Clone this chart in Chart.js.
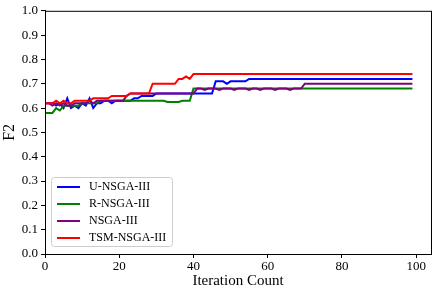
<!DOCTYPE html>
<html>
<head>
<meta charset="utf-8">
<script src="https://cdn.jsdelivr.net/npm/chart.js"></script>
<style>
html, body { margin:0; padding:0; background:#fff; }
</style>
</head>
<body>
<canvas id="canvas" width="432" height="290"></canvas>
<script>
// iteration index 0..99
var iterations = [];
for (var i = 0; i < 100; i++) iterations.push(i);

var seriesNames = ['U-NSGA-III', 'R-NSGA-III', 'NSGA-III', 'TSM-NSGA-III'];
var seriesColors = ['#0000ff', '#008000', '#800080', '#ff0000'];

var uNsga = [
    0.62, 0.62, 0.62, 0.61, 0.62, 0.60, 0.64, 0.60, 0.61, 0.60,
    0.62, 0.61, 0.64, 0.60, 0.62, 0.62, 0.63, 0.63, 0.62, 0.63,
    0.63, 0.63, 0.63, 0.63, 0.64, 0.64, 0.65, 0.65, 0.65, 0.65,
    0.66, 0.66, 0.66, 0.66, 0.66, 0.66, 0.66, 0.66, 0.66, 0.66,
    0.66, 0.66, 0.66, 0.66, 0.66, 0.66, 0.71, 0.71, 0.71, 0.70,
    0.71, 0.71, 0.71, 0.71, 0.71, 0.72, 0.72, 0.72, 0.72, 0.72,
    0.72, 0.72, 0.72, 0.72, 0.72, 0.72, 0.72, 0.72, 0.72, 0.72,
    0.72, 0.72, 0.72, 0.72, 0.72, 0.72, 0.72, 0.72, 0.72, 0.72,
    0.72, 0.72, 0.72, 0.72, 0.72, 0.72, 0.72, 0.72, 0.72, 0.72,
    0.72, 0.72, 0.72, 0.72, 0.72, 0.72, 0.72, 0.72, 0.72, 0.72
];
var rNsga = [
    0.58, 0.58, 0.58, 0.60, 0.59, 0.61, 0.61, 0.61, 0.61, 0.61,
    0.62, 0.62, 0.62, 0.62, 0.62, 0.63, 0.63, 0.63, 0.63, 0.63,
    0.63, 0.63, 0.63, 0.63, 0.63, 0.63, 0.63, 0.63, 0.63, 0.63,
    0.63, 0.63, 0.63, 0.625, 0.625, 0.625, 0.625, 0.63, 0.63, 0.63,
    0.68, 0.68, 0.68, 0.68, 0.68, 0.68, 0.68, 0.68, 0.68, 0.68,
    0.68, 0.68, 0.68, 0.68, 0.68, 0.68, 0.68, 0.68, 0.68, 0.68,
    0.68, 0.68, 0.68, 0.68, 0.68, 0.68, 0.68, 0.68, 0.68, 0.68,
    0.68, 0.68, 0.68, 0.68, 0.68, 0.68, 0.68, 0.68, 0.68, 0.68,
    0.68, 0.68, 0.68, 0.68, 0.68, 0.68, 0.68, 0.68, 0.68, 0.68,
    0.68, 0.68, 0.68, 0.68, 0.68, 0.68, 0.68, 0.68, 0.68, 0.68
];
var nsga = [
    0.62, 0.62, 0.61, 0.62, 0.61, 0.62, 0.61, 0.61, 0.62, 0.62,
    0.62, 0.62, 0.63, 0.62, 0.63, 0.63, 0.63, 0.63, 0.63, 0.63,
    0.63, 0.63, 0.65, 0.66, 0.66, 0.66, 0.66, 0.66, 0.66, 0.66,
    0.66, 0.66, 0.66, 0.66, 0.66, 0.66, 0.66, 0.66, 0.66, 0.66,
    0.66, 0.68, 0.68, 0.675, 0.68, 0.68, 0.68, 0.675, 0.68, 0.68,
    0.68, 0.675, 0.68, 0.68, 0.68, 0.675, 0.68, 0.68, 0.675, 0.68,
    0.68, 0.68, 0.675, 0.68, 0.68, 0.68, 0.675, 0.68, 0.68, 0.68,
    0.70, 0.70, 0.70, 0.70, 0.70, 0.70, 0.70, 0.70, 0.70, 0.70,
    0.70, 0.70, 0.70, 0.70, 0.70, 0.70, 0.70, 0.70, 0.70, 0.70,
    0.70, 0.70, 0.70, 0.70, 0.70, 0.70, 0.70, 0.70, 0.70, 0.70
];
var tsmNsga = [
    0.62, 0.62, 0.62, 0.63, 0.62, 0.63, 0.62, 0.62, 0.63, 0.63,
    0.63, 0.63, 0.63, 0.64, 0.64, 0.64, 0.64, 0.64, 0.65, 0.65,
    0.65, 0.65, 0.65, 0.66, 0.66, 0.66, 0.66, 0.66, 0.66, 0.70,
    0.70, 0.70, 0.70, 0.70, 0.70, 0.70, 0.72, 0.72, 0.73, 0.72,
    0.74, 0.74, 0.74, 0.74, 0.74, 0.74, 0.74, 0.74, 0.74, 0.74,
    0.74, 0.74, 0.74, 0.74, 0.74, 0.74, 0.74, 0.74, 0.74, 0.74,
    0.74, 0.74, 0.74, 0.74, 0.74, 0.74, 0.74, 0.74, 0.74, 0.74,
    0.74, 0.74, 0.74, 0.74, 0.74, 0.74, 0.74, 0.74, 0.74, 0.74,
    0.74, 0.74, 0.74, 0.74, 0.74, 0.74, 0.74, 0.74, 0.74, 0.74,
    0.74, 0.74, 0.74, 0.74, 0.74, 0.74, 0.74, 0.74, 0.74, 0.74
];

var xTicks = [0, 20, 40, 60, 80, 100];
var serif = "'Liberation Serif', 'DejaVu Serif', serif";

var allSeries = [uNsga, rNsga, nsga, tsmNsga];
var datasets = allSeries.map(function (vals, k) {
    return {
        label: seriesNames[k],
        data: iterations.map(function (it, j) { return {x: it, y: vals[j]}; }),
        borderColor: seriesColors[k],
        backgroundColor: seriesColors[k],
        borderWidth: 2,
        pointRadius: 0,
        tension: 0,
        fill: false,
        order: 4 - k
    };
});

// frame + legend inside the plot
var framePlugin = {
    id: 'frame',
    afterDatasetsDraw: function (chart) {
        var ctx = chart.ctx;
        var a = chart.chartArea;
        ctx.save();
        ctx.strokeStyle = '#000';
        ctx.lineWidth = 1;
        ctx.strokeRect(a.left + 0.5, a.top + 0.5, a.right - a.left, a.bottom - a.top);

        // legend box
        var bx = 51, by = 177, bw = 121, bh = 69;
        ctx.fillStyle = 'rgba(255,255,255,0.8)';
        ctx.strokeStyle = '#cccccc';
        ctx.beginPath();
        ctx.roundRect(bx + 0.5, by + 0.5, bw, bh, 3);
        ctx.fill();
        ctx.stroke();

        ctx.font = '12px ' + serif;
        ctx.textBaseline = 'middle';
        ctx.textAlign = 'left';
        for (var k = 0; k < seriesNames.length; k++) {
            var yy = by + 10 + k * 17;
            ctx.strokeStyle = seriesColors[k];
            ctx.lineWidth = 2;
            ctx.beginPath();
            ctx.moveTo(bx + 6, yy);
            ctx.lineTo(bx + 29, yy);
            ctx.stroke();
            ctx.fillStyle = '#000';
            ctx.fillText(seriesNames[k], bx + 38, yy);
        }
        ctx.restore();
    }
};

var ctx = document.getElementById('canvas').getContext('2d');
window.myChart = new Chart(ctx, {
    type: 'line',
    data: { datasets: datasets },
    plugins: [framePlugin],
    options: {
        responsive: false,
        animation: false,
        layout: { padding: { top: 5, right: 1, left: 0, bottom: 0 } },
        plugins: {
            legend: { display: false },
            tooltip: { enabled: false }
        },
        scales: {
            x: {
                type: 'linear',
                min: 0,
                max: 104,
                afterBuildTicks: function (scale) {
                    scale.ticks = xTicks.map(function (v) { return {value: v}; });
                },
                afterFit: function (scale) { scale.height = 36; },
                ticks: {
                    color: '#000',
                    font: { family: serif, size: 13 },
                    padding: 1,
                    maxRotation: 0
                },
                grid: { drawOnChartArea: false, drawTicks: true, tickLength: 4, color: '#000' },
                border: { display: true, color: '#000' },
                title: {
                    display: true,
                    text: 'Iteration Count',
                    color: '#000',
                    font: { family: serif, size: 15 },
                    padding: { top: 0, bottom: 0 }
                }
            },
            y: {
                min: 0,
                max: 1,
                ticks: {
                    stepSize: 0.1,
                    color: '#000',
                    font: { family: serif, size: 13 },
                    padding: 3,
                    callback: function (v) { return v.toFixed(1); }
                },
                afterFit: function (scale) { scale.width = 45; },
                grid: { drawOnChartArea: false, drawTicks: true, tickLength: 4, color: '#000' },
                border: { display: true, color: '#000' },
                title: {
                    display: true,
                    text: 'F2',
                    color: '#000',
                    font: { family: serif, size: 16 },
                    padding: { top: 0, bottom: 0 }
                }
            }
        }
    }
});
</script>
</body>
</html>
